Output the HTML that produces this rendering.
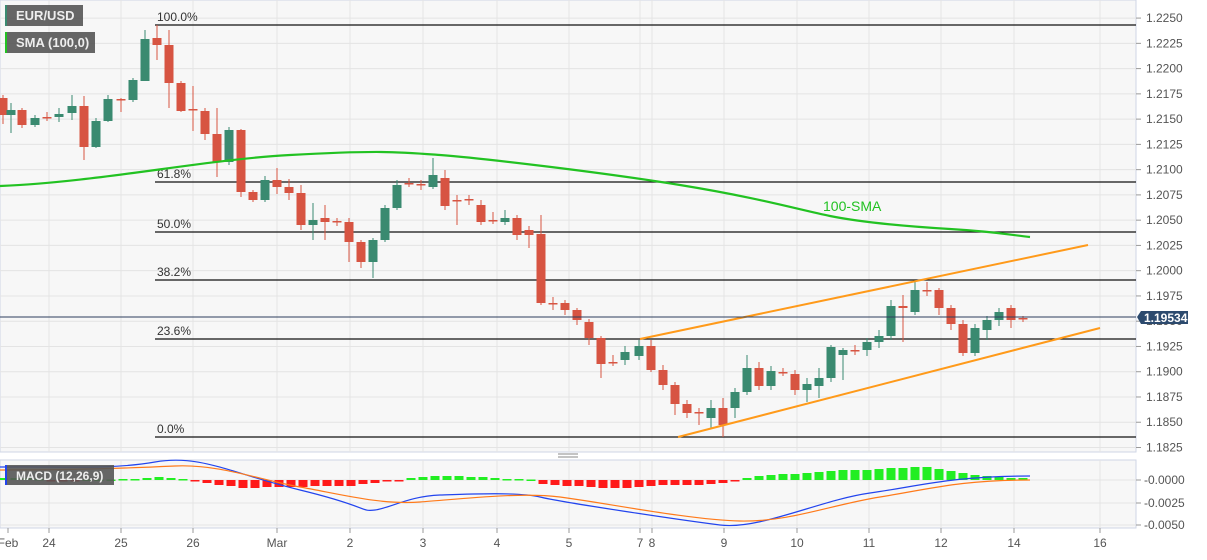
<!DOCTYPE html>
<html><head><meta charset="utf-8"><style>
body{margin:0;background:#fff;font-family:"Liberation Sans",sans-serif}
svg text{font-family:"Liberation Sans",sans-serif}
</style></head><body>
<svg id="s" width="1207" height="555" xmlns="http://www.w3.org/2000/svg">
<rect x="0" y="0" width="1136" height="452" fill="#f7f7f7" stroke="#cfd6e6"/>
<rect x="0" y="460" width="1136" height="68" fill="#f7f7f7" stroke="#cfd6e6"/>
<g id="g"></g>
</svg>
<script>
const S=document.getElementById('g');let h='';
const Y=p=>447.5-(p-1.1825)/0.0025*25.26;
// grid
for(let i=0;i<=17;i++){const y=Y(1.1825+i*0.0025);h+=`<line x1="0" x2="1136" y1="${y}" y2="${y}" stroke="#e4e4e4"/>`;h+=`<line x1="1136" x2="1141" y1="${y}" y2="${y}" stroke="#999"/><text x="1146" y="${y+4}" font-size="12" fill="#555">${(1.1825+i*0.0025).toFixed(4)}</text>`;}
[480,503,525].forEach((y,i)=>{h+=`<line x1="0" x2="1136" y1="${y}" y2="${y}" stroke="#e4e4e4"/><line x1="1136" x2="1141" y1="${y}" y2="${y}" stroke="#999"/><text x="1144" y="${y+4}" font-size="12" fill="#555">${['-0.0000','-0.0025','-0.0050'][i]}</text>`});
const days=[[8,'Feb'],[49,'24'],[121,'25'],[193,'26'],[277,'Mar'],[350,'2'],[423,'3'],[497,'4'],[569,'5'],[640,'7'],[652,'8'],[724,'9'],[797,'10'],[869,'11'],[941,'12'],[1014,'14'],[1100,'16']];
days.forEach(([x,t])=>{if(x>20){h+=`<line x1="${x}" x2="${x}" y1="0" y2="452" stroke="#e4e4e4"/><line x1="${x}" x2="${x}" y1="460" y2="528" stroke="#e4e4e4"/>`;}h+=`<line x1="${x}" x2="${x}" y1="528" y2="533" stroke="#999"/><text x="${x}" y="547" font-size="12" fill="#555" text-anchor="middle">${t}</text>`});
// fib lines
[[25,'100.0%'],[182,'61.8%'],[232,'50.0%'],[280,'38.2%'],[339,'23.6%'],[437,'0.0%']].forEach(([y,t])=>{h+=`<line x1="155" x2="1136" y1="${y}" y2="${y}" stroke="#111" stroke-width="1.2"/><text x="157" y="${y-4}" font-size="12" fill="#333">${t}</text>`});
// candles [x, open, close, high, low] in y
const c=[[3,98,115,95,124],[11,115,110,103,133],[22,110,125,108,128],[35,125,118,115,127],[47,117,118,112,121],[59,117,114,108,122],[72,113,106,95,120],[84,106,147,96,160],[96,147,121,118,148],[108,121,99,95,122],[121,99,100,98,112],[133,100,80,78,102],[145,81,39,30,81],[157,38,45,25,60],[169,45,83,30,108],[181,83,111,81,112],[193,109,110,86,131],[205,111,134,108,140],[217,134,162,108,177],[229,162,130,127,165],[241,130,192,129,197],[253,192,200,190,202],[265,200,180,176,202],[277,180,187,168,194],[289,187,193,179,200],[301,193,225,185,230],[313,225,220,203,240],[325,218,222,205,240],[337,221,222,218,226],[349,222,242,218,262],[361,242,262,240,268],[373,262,240,238,278],[385,240,208,205,242],[397,208,185,180,210],[409,183,184,178,187],[421,184,185,180,190],[433,187,175,158,189],[445,178,206,170,210],[457,200,201,195,225],[469,199,200,195,205],[481,205,222,200,225],[493,220,221,212,224],[505,222,218,210,225],[517,218,235,215,240],[529,230,235,226,248],[541,234,303,215,305],[553,303,304,297,310],[565,303,310,300,315],[577,310,320,308,325],[589,322,338,319,345],[601,338,364,336,378],[613,362,363,355,366],[625,360,352,346,365],[639,356,346,340,360],[651,346,370,340,372],[663,370,385,365,390],[675,385,404,382,415],[687,404,413,400,418],[699,412,413,408,425],[711,418,408,400,428],[723,408,425,398,437],[735,408,392,388,418],[747,392,368,355,395],[759,368,386,362,390],[771,386,371,366,390],[783,372,373,368,376],[795,374,390,370,395],[807,390,384,378,402],[819,386,378,368,398],[831,378,347,345,382],[843,355,350,348,380],[855,350,351,345,355],[867,350,342,338,356],[879,342,336,330,348],[891,336,306,300,340],[903,306,308,295,342],[915,312,290,280,315],[927,290,291,282,296],[939,290,308,288,315],[951,308,324,305,330],[963,324,353,320,356],[975,353,328,324,356],[987,330,320,316,340],[999,320,312,308,326],[1011,308,320,305,328],[1023,318,319,316,322]];
c.forEach(([x,o,cl,hi,lo])=>{const up=cl<o;const col=up?'#3a8a70':'#d75442';const t=Math.min(o,cl),b=Math.max(o,cl);h+=`<line x1="${x}" x2="${x}" y1="${hi}" y2="${lo}" stroke="${col}"/><rect x="${x-4.5}" y="${t}" width="9" height="${Math.max(b-t,1.5)}" fill="${col}"/>`});
// SMA
h+=`<path d="M0,186 C100,182 200,160 290,155 S400,152 440,155 S600,172 680,185 S800,210 830,216 S900,226 950,229 S1010,235 1030,237" fill="none" stroke="#22c222" stroke-width="2.2"/>`;
h+=`<text x="823" y="211" font-size="14" fill="#22c222">100-SMA</text>`;
// channel
h+=`<line x1="640" y1="339" x2="1088" y2="245" stroke="#ff9a1a" stroke-width="2"/><line x1="678" y1="437" x2="1100" y2="328" stroke="#ff9a1a" stroke-width="2"/>`;
// price line
h+=`<line x1="0" x2="1136" y1="317" y2="317" stroke="#2c3e5c"/><path d="M1137,317 L1141,311 H1188 V324 H1141 Z" fill="#2c4a6e"/><text x="1144" y="322" font-size="12" font-weight="bold" fill="#fff">1.19534</text>`;
// MACD histogram
const hist=[[3,2],[15,2],[27,2],[39,1],[51,-1],[63,-1],[75,-1],[87,0.5],[99,0.5],[111,0.5],[123,1],[135,1],[147,2],[159,3],[171,2],[183,1],[195,-1],[207,-3],[219,-5],[231,-6],[243,-8],[255,-8],[267,-7],[279,-7],[291,-7],[303,-7],[315,-6],[327,-6],[339,-6],[351,-6],[363,-4],[375,-3],[387,-1],[399,-0.5],[411,2],[423,3],[435,4],[447,4],[459,4],[471,3],[483,3],[495,2],[507,1],[519,1],[531,0.5],[543,-4],[555,-5],[567,-6],[579,-6],[591,-7],[603,-8],[615,-8],[627,-8],[639,-7],[651,-6],[663,-5],[675,-5],[687,-5],[699,-5],[711,-4],[723,-3],[735,-1],[747,2],[759,4],[771,5],[783,6],[795,6],[807,7],[819,8],[831,9],[843,10],[855,10],[867,10],[879,11],[891,12],[903,12],[915,13],[927,13],[939,11],[951,9],[963,7],[975,5],[987,4],[999,3],[1011,2],[1023,2]];
hist.forEach(([x,v])=>{const col=v>0?'#22ee22':'#ff1a1a';const y=v>0?480-v:480;h+=`<rect x="${x-4.5}" y="${y}" width="9" height="${Math.max(Math.abs(v),1.5)}" fill="${col}"/>`});
h+=`<path d="M0,467 C60,466 110,470 155,462 S230,473 300,490 S360,512 375,510 S410,496 440,495 S520,492 540,497 S680,520 720,525 S820,500 870,493 S950,476 1030,476" fill="none" stroke="#2244ee" stroke-width="1.2"/>`;
h+=`<path d="M0,470 C80,470 130,468 175,466 S260,480 300,487 S380,505 420,502 S520,492 560,497 S690,520 740,521 S830,505 880,497 S960,480 1030,480" fill="none" stroke="#ff7a1a" stroke-width="1.2"/>`;
// legends
h+=`<rect x="5" y="5" width="78" height="21" fill="#555" opacity="0.9"/><rect x="5" y="5" width="2" height="21" fill="#3a8a70"/><text x="16" y="20" font-size="13" font-weight="bold" fill="#eee">EUR/USD</text>`;
h+=`<rect x="5" y="32" width="90" height="21" fill="#555" opacity="0.9"/><rect x="5" y="32" width="2" height="21" fill="#22c222"/><text x="16" y="47" font-size="13" font-weight="bold" fill="#eee">SMA (100,0)</text>`;
h+=`<rect x="5" y="465" width="109" height="20" fill="#555" opacity="0.9"/><rect x="5" y="465" width="2" height="20" fill="#2244ee"/><text x="16" y="480" font-size="12" font-weight="bold" fill="#eee">MACD (12,26,9)</text>`;
h+=`<line x1="558" x2="578" y1="454" y2="454" stroke="#888"/><line x1="558" x2="578" y1="457" y2="457" stroke="#888"/>`;
S.innerHTML=h;
</script>
</body></html>
